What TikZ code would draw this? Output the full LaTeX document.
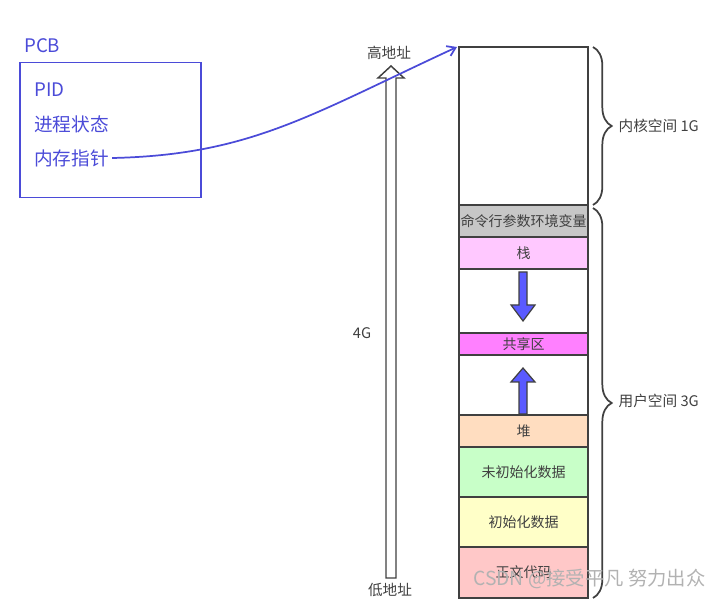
\documentclass[tikz,border=0pt]{standalone}
\usepackage{fontspec}
\setmainfont{Noto Sans CJK SC}
\usetikzlibrary{arrows.meta,decorations.pathreplacing}
\definecolor{pcbblue}{HTML}{4B4BD8}
\definecolor{ink}{HTML}{404040}
\definecolor{arrblue}{HTML}{5A5AFF}
\begin{document}
\begin{tikzpicture}[x=0.75pt,y=-0.75pt,
  seg/.style={draw=ink,line width=1.3pt,minimum width=96.75pt,inner sep=0pt,
    font=\fontsize{10.5pt}{12pt}\selectfont,text=ink},
  lbl/.style={text=ink,font=\fontsize{11pt}{13pt}\selectfont,inner sep=1pt},
  pcbtxt/.style={text=pcbblue,font=\fontsize{14pt}{16pt}\selectfont,anchor=west,inner sep=0pt},
  brc/.style={draw=ink,line width=1.3pt,decorate,decoration={brace,amplitude=14pt}},
  blockarrow/.style={draw=ink,line width=0.9pt,fill=arrblue}]
\useasboundingbox (0,0) rectangle (726,599);
% PCB
\node[draw=pcbblue,line width=1.3pt,minimum width=135.75pt,minimum height=101.25pt,inner sep=0pt] (pcb) at (110.5,130) {};
\node[pcbtxt] (pcbl) at (24,46) {PCB};
\node[pcbtxt] (pid) at (34,90) {PID};
\node[pcbtxt] (state) at (34,124) {进程状态};
\node[pcbtxt] (mem) at (34,158) {内存指针};
% memory column
\node[seg,minimum height=118.5pt] (kernel) at (523.5,126) {};
\node[seg,fill=black!22,minimum height=24pt] (args) at (523.5,221) {命令行参数环境变量};
\node[seg,fill={rgb,255:red,255;green,200;blue,255},minimum height=24pt] (stack) at (523.5,253) {栈};
\node[seg,minimum height=48pt] (gap1) at (523.5,301) {};
\node[seg,fill={rgb,255:red,255;green,128;blue,255},minimum height=16.5pt] (shared) at (523.5,344) {共享区};
\node[seg,minimum height=45pt] (gap2) at (523.5,385) {};
\node[seg,fill={rgb,255:red,255;green,221;blue,192},minimum height=24pt] (heap) at (523.5,431) {堆};
\node[seg,fill={rgb,255:red,200;green,255;blue,200},minimum height=37.5pt] (uninit) at (523.5,472) {未初始化数据};
\node[seg,fill={rgb,255:red,255;green,255;blue,200},minimum height=37.5pt] (init) at (523.5,522) {初始化数据};
\node[seg,fill={rgb,255:red,255;green,200;blue,200},minimum height=38.25pt] (code) at (523.5,572.5) {正文代码};
% blue growth arrows
\draw[blockarrow] (519,272) -- (527,272) -- (527,305) -- (535,305) -- (523,321) -- (511,305) -- (519,305) -- cycle;
\draw[blockarrow] (519,414) -- (527,414) -- (527,382) -- (535,382) -- (523,368) -- (511,382) -- (519,382) -- cycle;
% braces
\draw[brc] (593,47) -- (593,205);
\draw[brc] (593,208) -- (593,598);
\node[lbl,anchor=west] (klbl) at (617,126) {内核空间 1G};
\node[lbl,anchor=west] (ulbl) at (617,401) {用户空间 3G};
% address arrow
\draw[draw=ink,line width=1.1pt,fill=white,line join=miter] (386,578) -- (396,578) -- (396,78) -- (404,78) -- (391,66) -- (378,78) -- (386,78) -- cycle;
\node[lbl] (high) at (389,53) {高地址};
\node[lbl] (low) at (390,590) {低地址};
\node[lbl] (fourg) at (362,333) {4G};
% pointer curve
\coordinate (ktop) at (457,47);
\draw[pcbblue,line width=1.3pt,-{Straight Barb[length=6pt,width=8pt]}] (mem.east) ++(3,0) .. controls (250,155) and (310,115) .. (ktop);
% watermark
\node[text=black!30,font=\fontsize{14.5pt}{16pt}\selectfont,anchor=west,inner sep=0pt] (wm) at (473,579) {CSDN @接受平凡 努力出众};
\end{tikzpicture}
\end{document}
